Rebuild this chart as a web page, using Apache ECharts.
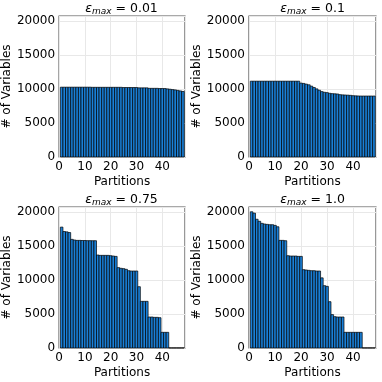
<!DOCTYPE html>
<html>
<head>
<meta charset="utf-8">
<script src="https://cdn.jsdelivr.net/npm/echarts@6/dist/echarts.min.js"></script>
<style>
  html, body { margin: 0; padding: 0; background: #fff; }
  #chart { width: 382px; height: 382px; }
</style>
</head>
<body>
<div id="chart"></div>
<script>
// partition index (x) for every bar
var partitions = [1,2,3,4,5,6,7,8,9,10,11,12,13,14,15,16,17,18,19,20,21,22,23,24,
                  25,26,27,28,29,30,31,32,33,34,35,36,37,38,39,40,41,42,43,44,45,46,47,48];

// # of variables per partition, one list per eps_max
var eps001 = [10250,10250,10250,10250,10250,10250,10250,10250,10250,10250,10250,10250,
              10230,10230,10230,10230,10230,10230,10230,10230,10230,10230,10230,10230,
              10200,10200,10200,10200,10200,10200,10150,10150,10150,10150,10080,10080,
              10080,10080,10050,10050,10050,10000,9950,9900,9850,9780,9700,9620];
var eps01  = [11130,11130,11130,11130,11130,11130,11130,11130,11130,11130,11130,11130,
              11130,11130,11130,11130,11130,11130,11130,10850,10800,10700,10600,10400,
              10200,10000,9800,9600,9500,9450,9350,9300,9280,9250,9150,9120,
              9100,9080,9050,9000,8980,8960,8950,8950,8950,8950,8950,8950];
var eps075 = [17750,17100,17050,16950,15950,15850,15800,15800,15780,15780,15760,15760,
              15750,15750,13650,13600,13600,13600,13600,13550,13500,13450,11800,11700,
              11650,11550,11350,11300,11300,11300,9000,6850,6850,6850,4550,4550,
              4500,4500,4450,2300,2300,2300,0,0,0,0,0,0];
var eps10  = [20000,19800,18900,18600,18300,18200,18150,18100,18100,18000,17800,15800,
              15800,15750,13550,13500,13500,13500,13450,13450,11500,11450,11400,11350,
              11350,11300,11300,10300,9150,9050,6800,4900,4600,4550,4550,4550,
              2300,2300,2300,2300,2300,2300,2300,0,0,0,0,0];

var titles = ['0.01', '0.1', '0.75', '1.0'];
var seriesData = [eps001, eps01, eps075, eps10];

var yTicks = 5000, xTicks = 10;
var font = 'DejaVu Sans';

var chart = echarts.init(document.getElementById('chart'), null, { renderer: 'canvas' });

// subplot boxes [left, top]
var boxes = [[58, 16], [249, 16], [58, 207], [249, 207]];
var W = 127, H = 141;

function renderBar(params, api) {
    var x = api.value(0), y = api.value(1);
    var p0 = api.coord([x - 0.5, 0]);
    var p1 = api.coord([x + 0.5, y]);
    return {
        type: 'rect',
        shape: { x: p0[0], y: p1[1], width: p1[0] - p0[0], height: p0[1] - p1[1] },
        style: { fill: '#1a80d8', stroke: '#000', lineWidth: 0.7 }
    };
}

var grids = [], xAxes = [], yAxes = [], series = [], titleList = [];
for (var i = 0; i < 4; i++) {
    var b = boxes[i];
    grids.push({
        left: b[0], top: b[1], width: W, height: H,
        show: true, borderColor: '#555', borderWidth: 1.2, backgroundColor: 'transparent'
    });
    xAxes.push({
        gridIndex: i, type: 'value', min: 0, max: 48.8, interval: xTicks,
        name: 'Partitions', nameLocation: 'middle', nameGap: 19,
        nameTextStyle: { fontFamily: font, fontSize: 12, color: '#000' },
        axisLine: { show: false }, axisTick: { show: false },
        axisLabel: {
            fontFamily: font, fontSize: 12, color: '#000', margin: 4,
            formatter: function (v) { return v % 10 === 0 ? v : ''; }
        },
        splitLine: { show: true, lineStyle: { color: '#e8e8e8', width: 1 } }
    });
    yAxes.push({
        gridIndex: i, type: 'value', min: 0, max: 20700, interval: yTicks,
        name: '# of Variables', nameLocation: 'middle', nameGap: 40,
        nameTextStyle: { fontFamily: font, fontSize: 12, color: '#000' },
        axisLine: { show: false }, axisTick: { show: false },
        axisLabel: {
            fontFamily: font, fontSize: 12, color: '#000', margin: 4,
            formatter: function (v) { return v % 5000 === 0 ? v : ''; }
        },
        splitLine: { show: true, lineStyle: { color: '#e8e8e8', width: 1 } }
    });
    var pts = [];
    for (var k = 0; k < partitions.length; k++) pts.push([partitions[k], seriesData[i][k]]);
    series.push({
        type: 'custom', xAxisIndex: i, yAxisIndex: i,
        renderItem: renderBar, data: pts, animation: false
    });
    titleList.push({
        left: b[0] + W / 2, top: b[1] - 14, textAlign: 'center', padding: 0,
        text: '{e|ε}{s|max}{n| = ' + titles[i] + '}',
        textStyle: {
            fontWeight: 'normal',
            rich: {
                e: { fontFamily: font, fontStyle: 'italic', fontWeight: 'normal', fontSize: 12.5, color: '#000', lineHeight: 14, verticalAlign: 'middle' },
                s: { fontFamily: font, fontStyle: 'italic', fontWeight: 'normal', fontSize: 9, color: '#000', lineHeight: 14, verticalAlign: 'bottom' },
                n: { fontFamily: font, fontWeight: 'normal', fontSize: 12.5, color: '#000', lineHeight: 14, verticalAlign: 'middle' }
            }
        }
    });
}

chart.setOption({
    animation: false,
    title: titleList,
    grid: grids,
    xAxis: xAxes,
    yAxis: yAxes,
    series: series
});
</script>
</body>
</html>
